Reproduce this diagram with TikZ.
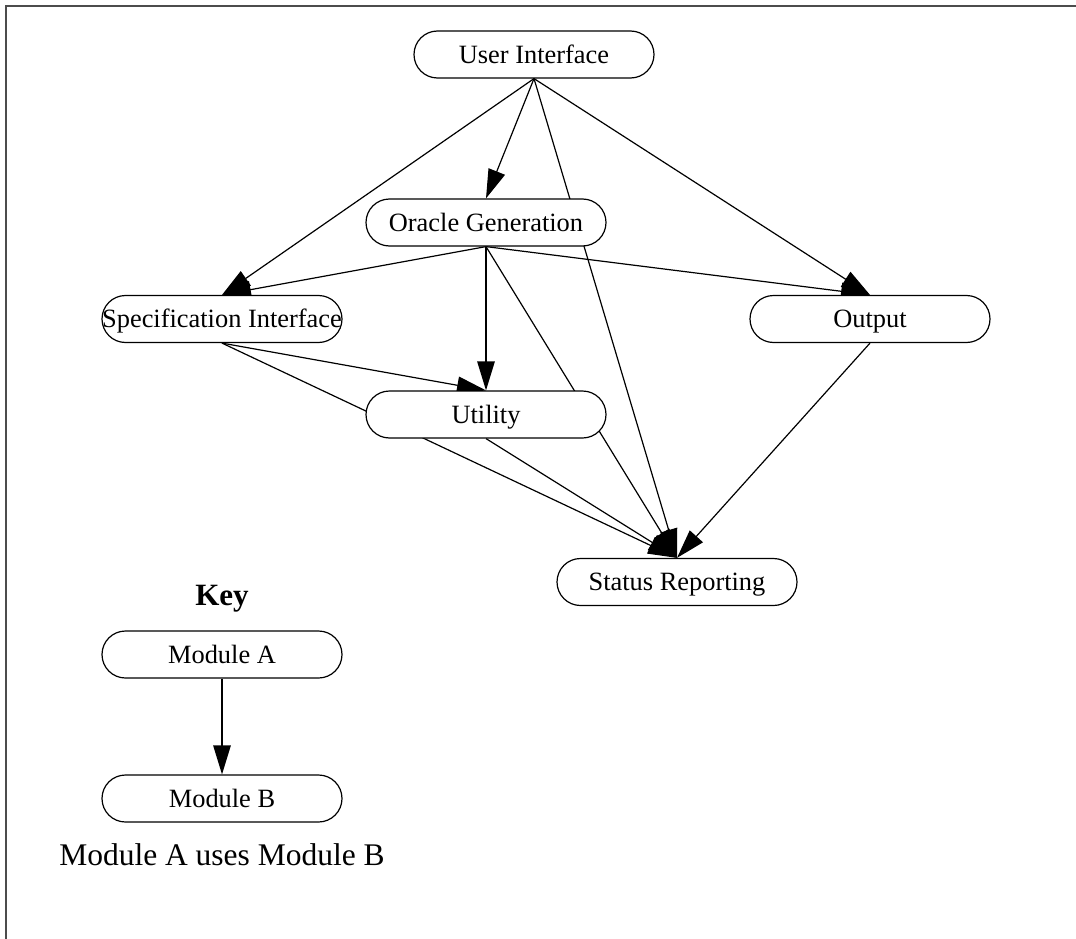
\documentclass[tikz,border=0pt]{standalone}
\usepackage{fontspec}
\setmainfont{Liberation Serif}
\usetikzlibrary{arrows.meta}
\pgfdeclarelayer{background}
\pgfsetlayers{background,main}
\begin{document}
\begin{tikzpicture}[x=1pt,y=-1pt,
  module/.style={draw=black, line width=1.2pt, fill=white, rectangle,
    rounded corners=23.5pt, minimum width=240pt, minimum height=47pt,
    inner sep=0pt, text height=17.5pt, text depth=0pt,
    font=\fontsize{26.4}{30}\selectfont},
  uses/.style={line width=1.2pt, -{Triangle[length=29pt,width=17.5pt]}},
  framestyle/.style={line width=2pt, draw=black!70}]
\useasboundingbox (0,0) rectangle (1076,939);
\draw[framestyle] (1076,6.5) -- (6,6.5) -- (6,939);

\node[module] (ui) at (534,54.5) {User Interface};
\node[module] (og) at (486,222.5) {Oracle Generation};
\node[module] (spec) at (222,319) {Specification Interface};
\node[module] (out) at (870,319) {Output};
\node[module] (util) at (486,414.5) {Utility};
\node[module] (sr) at (677,582) {Status Reporting};

\node[font=\fontsize{31}{36}\selectfont\bfseries, anchor=base, inner sep=0pt] (key) at (222,605) {Key};
\node[module] (ma) at (222,654.5) {Module A};
\node[module] (mb) at (222,798.5) {Module B};
\node[font=\fontsize{31.5}{36}\selectfont, anchor=base, inner sep=0pt] (legend) at (222,865) {Module A uses Module B};

\begin{pgfonlayer}{background}
\draw[uses] (ui.south) -- (og.north);
\draw[uses] (ui.south) -- (spec.north);
\draw[uses] (ui.south) -- (out.north);
\draw[uses] (ui.south) -- (sr.north);
\draw[uses] (og.south) -- (spec.north);
\draw[uses] (og.south) -- (out.north);
\draw[uses] (og.south) -- (util.north);
\draw[uses] (og.south) -- (sr.north);
\draw[uses] (spec.south) -- (util.north);
\draw[uses] (spec.south) -- (sr.north);
\draw[uses] (util.south) -- (sr.north);
\draw[uses] (out.south) -- (sr.north);
\draw[uses] (ma.south) -- (mb.north);
\end{pgfonlayer}
\end{tikzpicture}
\end{document}
